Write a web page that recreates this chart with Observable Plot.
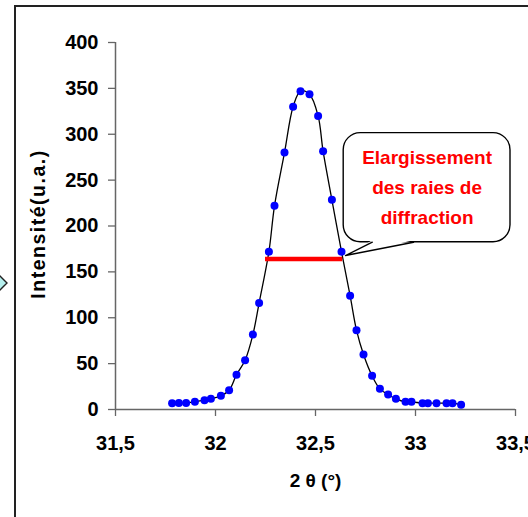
<!DOCTYPE html>
<html>
<head>
<meta charset="utf-8">
<script src="https://cdn.jsdelivr.net/npm/d3@7"></script>
<script src="https://cdn.jsdelivr.net/npm/@observablehq/plot@0.6"></script>
<style>
  html, body { margin: 0; padding: 0; background: #fff; overflow: hidden; }
  #wrap { position: relative; width: 528px; height: 517px; }
  #frame { position: absolute; left: 14px; top: 5px; right: -10px; bottom: -10px;
           border-left: 2px solid #222; border-top: 2px solid #222; pointer-events: none; }
  #deco { position: absolute; left: 0; top: 0; }
  #chart svg g[aria-label$="tick"] path,
  #chart svg .tick line { stroke: #666; stroke-width: 1.3; }
</style>
</head>
<body>
<div id="wrap">
  <svg id="deco" width="20" height="517">
    <polygon points="0,276 7,283 0,290 -7,283" fill="#b6f0ee" stroke="#222" stroke-width="1.4"></polygon>
  </svg>
  <div id="chart"></div>
  <div id="frame"></div>
</div>
<script>
// ---- data ----
const twoTheta = [31.783, 31.817, 31.853, 31.897, 31.945, 31.977, 32.027, 32.068, 32.105, 32.148,
                  32.187, 32.218, 32.267, 32.295, 32.345, 32.388, 32.425, 32.470, 32.513, 32.538,
                  32.582, 32.630, 32.673, 32.705, 32.740, 32.783, 32.822, 32.863, 32.902, 32.950,
                  32.980, 33.035, 33.062, 33.105, 33.155, 33.185, 33.228];
const intensity = [6.9, 7, 7, 8.4, 10.2, 11.6, 14.9, 21, 38, 53.8,
                   81.7, 116, 172, 222, 280, 330, 347, 343.7, 320, 281.5,
                   228.5, 172, 124, 86.5, 60, 36.7, 22.5, 16.3, 11.6, 8.4,
                   8.4, 6.9, 6.9, 6.9, 6.9, 6.9, 5.1];
const xTicks = [31.5, 32, 32.5, 33, 33.5];
const yTicks = [0, 50, 100, 150, 200, 250, 300, 350, 400];
const widthBar = [{x1: 32.25, x2: 32.636, y: 164}];
const calloutBox = [{x1: 32.641, x2: 33.475, y1: 182.3, y2: 301.2}];
const calloutTail = [{x: 32.784, y: 182.3}, {x: 32.650, y: 167.8}, {x: 32.990, y: 182.3}];
const calloutFill = [{x: 32.784, y: 184.5}, {x: 32.650, y: 167.8}, {x: 32.990, y: 184.5}];
const calloutLines = ["Elargissement", "des raies de", "diffraction"];
const calloutAt = [{x: 33.058, y: 245.8}];
const xTitle = "2 θ (°)";
const yTitle = "Intensité(u.a.)";

const fmtX = d => String(d).replace(".", ",");
const pts = twoTheta.map((x, i) => ({x, y: intensity[i]}));
const font = "'Liberation Sans', Arial, sans-serif";

const chart = Plot.plot({
  width: 528,
  height: 517,
  marginLeft: 115,
  marginRight: 13,
  marginTop: 42,
  marginBottom: 108,
  style: {fontFamily: font, fontSize: "19px", fontWeight: "bold", color: "#000", background: "transparent", overflow: "visible"},
  x: {domain: [31.5, 33.5], ticks: xTicks, tickFormat: fmtX, tickSize: 7, tickPadding: 19, label: null},
  y: {domain: [0, 400], ticks: yTicks, tickSize: 7, tickPadding: 10, label: null},
  marks: [
    Plot.ruleX([31.5], {stroke: "#666", strokeWidth: 1.5}),
    Plot.ruleY([0], {stroke: "#666", strokeWidth: 1.5}),
    Plot.line(pts, {x: "x", y: "y", stroke: "#000", strokeWidth: 1.3, curve: "catmull-rom"}),
    Plot.dot(pts, {x: "x", y: "y", r: 4, fill: "#0000ff", stroke: "none"}),
    Plot.ruleY(widthBar, {x1: "x1", x2: "x2", y: "y", stroke: "#ff0000", strokeWidth: 4.5}),
    Plot.rect(calloutBox, {x1: "x1", x2: "x2", y1: "y1", y2: "y2", fill: "#fff", stroke: "#000", strokeWidth: 1.4, rx: 17}),
    Plot.line(calloutFill, {x: "x", y: "y", fill: "#fff", stroke: "none"}),
    Plot.line(calloutTail, {x: "x", y: "y", stroke: "#000", strokeWidth: 1.4, curve: "linear"}),
    Plot.text(calloutAt, {x: "x", y: "y", text: () => calloutLines.join("\n"), lineHeight: 1.58,
      fontSize: 19, fontWeight: "bold", fill: "#ff0000", textAnchor: "middle"}),
    Plot.text([xTitle], {frameAnchor: "bottom", dy: 77, text: d => d, fontSize: 19, fontWeight: "bold", textAnchor: "middle"}),
    Plot.text([yTitle], {frameAnchor: "left", dx: -77, dy: -2, rotate: -90, text: d => d, fontSize: 19.5, fontWeight: "bold",
      textAnchor: "middle"})
  ]
});
const tickTexts = new Set([...xTicks.map(fmtX), ...yTicks.map(String)]);
const sel = d3.select(chart);
sel.selectAll("text").each(function() {
  const t = this.textContent;
  if (tickTexts.has(t)) d3.select(this).style("font-size", "20px").style("font-weight", "bold");
  if (t === yTitle) d3.select(this).style("letter-spacing", "1.5px");
});
document.getElementById("chart").appendChild(chart);
</script>
</body>
</html>
